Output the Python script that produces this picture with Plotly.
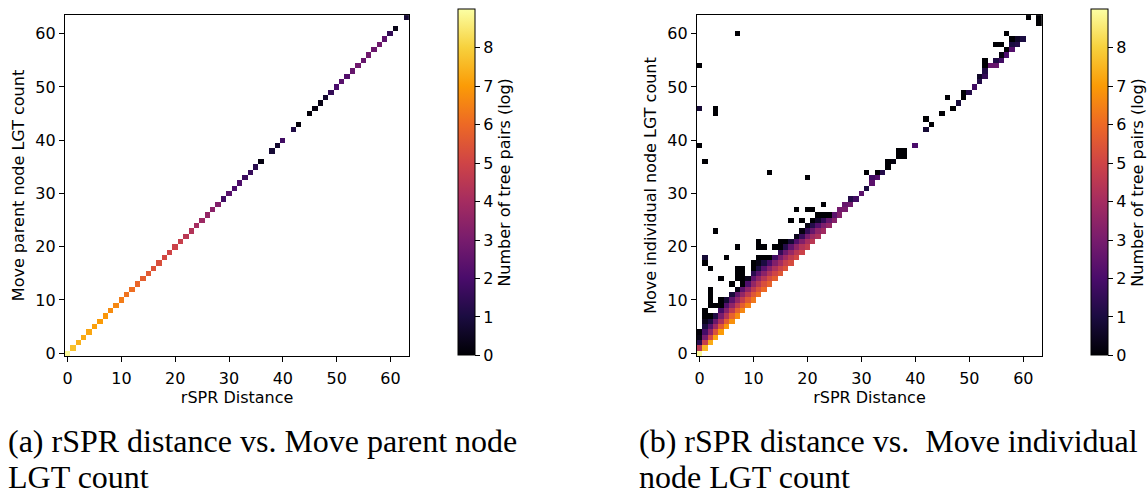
import numpy as np
import plotly.graph_objects as go

N = 64
NAN = None

# ---- (a) Move parent node: diagonal cells (rSPR distance == LGT count)
diag_a_x = [0,1,2,3,4,5,6,7,8,9,10,11,12,13,14,15,16,17,18,19,20,21,22,23,24,25,26,27,28,29,30,31,32,33,34,35,36,
            38,39,40,42,43,45,46,47,48,49,50,51,52,53,54,55,56,57,58,59,60,61,63]
diag_a_z = [8.9,7.7,7.4,7.3,7.2,7.1,7.0,6.9,6.7,6.6,6.4,6.2,6.1,5.9,5.7,5.6,5.4,5.3,5.1,5.0,4.9,4.8,4.5,4.3,4.0,3.8,3.6,3.4,3.2,1.8,2.3,2.0,2.1,1.7,1.6,1.3,0.2,
            0.8,0.7,1.8,1.1,0.1,0.1,0.2,0.3,0.7,1.5,2.0,2.3,2.2,2.6,2.8,2.6,2.8,2.7,2.8,2.4,1.5,0.3,0.8]

# ---- (b) Move individual node: per rSPR-distance column, first LGT count and values going up
col_b_x = list(range(0, 38)) + [38, 40, 42, 43, 45, 46, 47, 48, 49, 50, 51, 52, 53, 54, 55, 56, 57, 58, 59, 60, 61, 63]
col_b_start = [0,1,2,3,4,5,6,7,8,9,10,11,12,13,14,15,16,17,18,19,20,21,22,23,24,25,26,27,28,29,30,31,32,33,34,35,36,37,
               37,39,42,43,45,48,46,47,48,49,50,51,52,54,54,55,56,57,58,59,63,62]
col_b_vals = [
    [8.9, 4.5, 1.3, 0.3, 0.1],
    [7.5, 4.8, 3.0, 1.9, 1.0, 0.4, 0.0, 0.0],
    [7.3, 5.1, 3.5, 2.3, 1.0, 0.0, NAN, 0.0, 0.0, 0.0, 0.0],
    [7.2, 5.4, 3.9, 2.7, 1.1, NAN, 0.0],
    [7.0, 5.6, 4.2, 3.0, 1.9, 0.0, 0.0],
    [6.9, 5.7, 4.4, 3.3, 2.2, 0.8],
    [6.8, 5.8, 4.6, 3.5, 2.4, 0.9, NAN, 0.0],
    [6.7, 5.8, 4.7, 3.6, 2.5, 0.3, NAN, 0.0, 0.0, 0.0],
    [6.6, 5.7, 4.7, 3.6, 2.4, 0.0, 0.0, 0.0, 0.0],
    [6.5, 5.6, 4.6, 3.5, 2.1, 0.4],
    [6.3, 5.5, 4.6, 3.6, 2.5, 1.3, 0.0, 0.0],
    [6.1, 5.4, 4.5, 3.5, 2.4, 1.0, 0.3, 0.0, NAN, 0.0, 0.0],
    [6.0, 5.3, 4.4, 3.4, 2.3, 1.0, 0.0, NAN, 0.0],
    [5.8, 5.2, 4.3, 3.3, 2.0, 0.0],
    [5.7, 5.0, 4.2, 3.2, 1.8, NAN, 0.0],
    [5.5, 4.9, 4.0, 3.0, 1.5, 0.0, 0.0],
    [5.4, 4.8, 3.9, 2.8, 1.2, 0.0],
    [5.2, 4.6, 3.7, 2.5, 0.8, NAN, NAN, NAN, 0.0],
    [5.1, 4.5, 3.5, 2.2, 0.4, NAN, NAN, NAN, NAN, 0.0],
    [4.9, 4.3, 3.2, 1.6, 0.2, NAN, 0.0],
    [4.7, 4.1, 3.0, 1.5, 0.3, NAN, NAN, 0.0],
    [4.5, 3.8, 2.6, 1.2, 0.0, NAN, 0.0],
    [4.2, 3.5, 2.2, 0.6, 0.0],
    [3.9, 3.1, 1.5, 0.0, NAN, 0.0],
    [3.6, 2.6, 0.0],
    [3.3, 2.4],
    [3.2, 2.9],
    [3.0, 2.6],
    [2.8, 1.2],
    [1.8],
    [2.4],
    [1.0, NAN, NAN, 0.0],
    [2.4, 1.8],
    [2.2, 0.0],
    [1.2],
    [0.0, 0.0],
    [0.2],
    [0.0, 0.0],
    [0.0, 0.0],
    [2.0],
    [0.8, NAN, 0.0],
    [0.0],
    [0.0],
    [0.0],
    [0.0],
    [0.9],
    [0.0, 0.0],
    [1.2],
    [1.8],
    [1.2, 0.6],
    [1.5, 1.1, 0.0, 0.0],
    [2.6],
    [2.6, 1.1, NAN, NAN, 0.0],
    [1.8, 0.2, NAN, 0.0],
    [2.0, 0.0, NAN, NAN, 0.0],
    [2.2, 1.0, 0.0],
    [1.2, 0.6],
    [1.0],
    [0.0],
    [0.0, 0.0],
]
# isolated cells of (b)
out_b_x = [0, 0, 0, 1, 1, 1, 2, 3, 3, 3, 4, 5, 7, 7, 13, 20]
out_b_y = [39, 46, 54, 17, 18, 36, 16, 23, 45, 46, 14, 18, 20, 60, 34, 33]
out_b_z = [0.0, 0.8, 0.0, 0.0, 0.8, 0.0, 0.0, 0.0, 0.0, 0.0, 0.0, 0.0, 0.0, 0.0, 0.0, 0.0]

Z_MIN, Z_MAX = 0.0, 9.0
axis_ticks = [0, 10, 20, 30, 40, 50, 60]
cbar_ticks = [0, 1, 2, 3, 4, 5, 6, 7, 8]

za = np.full((N, N), np.nan)
for x, z in zip(diag_a_x, diag_a_z):
    za[x, x] = z

zb = np.full((N, N), np.nan)
for x, s, vals in zip(col_b_x, col_b_start, col_b_vals):
    for k, z in enumerate(vals):
        if z is not None:
            zb[s + k, x] = z
for x, y, z in zip(out_b_x, out_b_y, out_b_z):
    zb[y, x] = z

W, H = 1148, 495
FONT = "DejaVu Sans"


def cbar(x0):
    return dict(
        x=x0 / W, xanchor="left", xpad=0,
        y=(H - 360.5) / H, yanchor="bottom", ypad=0,
        len=345.5, lenmode="pixels", thickness=17, thicknessmode="pixels",
        outlinecolor="black", outlinewidth=1,
        ticks="outside", ticklen=5, tickwidth=1, tickcolor="black",
        tickvals=cbar_ticks, tickfont=dict(family=FONT, size=16, color="black"),
        title=dict(text="Number of tree pairs (log)", side="right",
                   font=dict(family=FONT, size=16, color="black")),
    )


idx = list(range(N))
fig = go.Figure()
fig.add_trace(go.Heatmap(z=za, x=idx, y=idx, colorscale="Inferno", zmin=Z_MIN, zmax=Z_MAX,
                         xaxis="x", yaxis="y", colorbar=cbar(456.5), hoverongaps=False))
fig.add_trace(go.Heatmap(z=zb, x=idx, y=idx, colorscale="Inferno", zmin=Z_MIN, zmax=Z_MAX,
                         xaxis="x2", yaxis="y2", colorbar=cbar(1090.5), hoverongaps=False))

ax_common = dict(range=[-0.5, 63.5], showline=True, mirror=True, linecolor="black", linewidth=1,
                 ticks="outside", ticklen=5, tickwidth=1, tickcolor="black", tickvals=axis_ticks,
                 showgrid=False, zeroline=False, tickfont=dict(family=FONT, size=16, color="black"))
xt = dict(ticklabelstandoff=3)
ydom = [(H - 361) / H, (H - 15.3) / H]
fig.update_layout(
    width=W, height=H, margin=dict(l=0, r=0, t=0, b=0),
    paper_bgcolor="white", plot_bgcolor="white",
    xaxis=dict(domain=[63 / W, 408 / W], anchor="y",
               title=dict(text="rSPR Distance", standoff=3, font=dict(family=FONT, size=16, color="black")), **ax_common, **xt),
    yaxis=dict(domain=ydom, anchor="x",
               title=dict(text="Move parent node LGT count", standoff=6, font=dict(family=FONT, size=16, color="black")), **ax_common),
    xaxis2=dict(domain=[696 / W, 1042 / W], anchor="y2",
                title=dict(text="rSPR Distance", standoff=3, font=dict(family=FONT, size=16, color="black")), **ax_common, **xt),
    yaxis2=dict(domain=ydom, anchor="x2",
                title=dict(text="Move individual node LGT count", standoff=6, font=dict(family=FONT, size=16, color="black")), **ax_common),
)

cap_font = dict(family="Liberation Serif", size=32, color="black")
captions = [
    (4, 447, "(a) rSPR distance vs. Move parent node"),
    (4, 484, "LGT count"),
    (636, 447, "(b) rSPR distance vs.&nbsp;&nbsp;Move individual"),
    (636, 484, "node LGT count"),
]
for cx, cy, txt in captions:
    fig.add_annotation(x=cx / W, y=(H - cy) / H, xref="paper", yref="paper", text=txt,
                       showarrow=False, xanchor="left", yanchor="middle", font=cap_font, align="left")

fig.write_html("out.html")
